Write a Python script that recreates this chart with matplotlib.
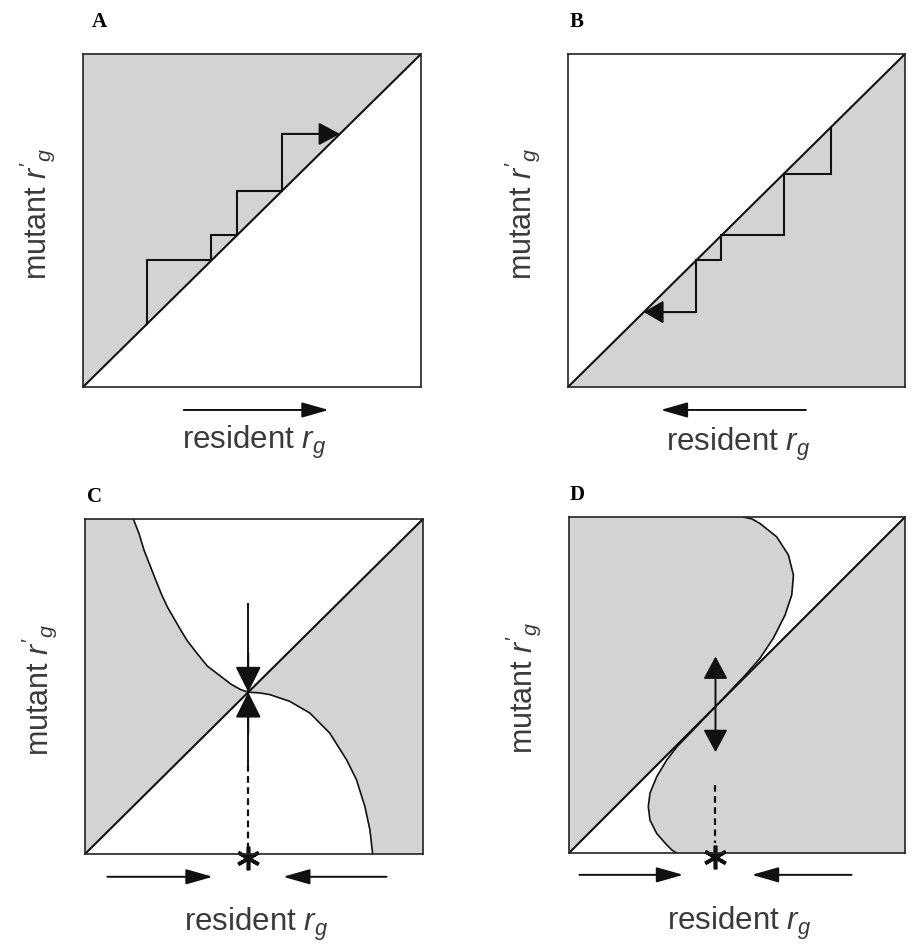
import numpy as np
import matplotlib
matplotlib.use('Agg')
import matplotlib.pyplot as plt

plt.rcParams['font.family'] = ['Liberation Sans', 'DejaVu Sans']
plt.rcParams['mathtext.fontset'] = 'custom'
plt.rcParams['mathtext.rm'] = 'Liberation Sans'
plt.rcParams['mathtext.it'] = 'Liberation Sans:italic'

# --------------------------
# Data (unit square, resident on x, mutant on y)
# --------------------------
panel_labels = ['A', 'B', 'C', 'D']
xlabel_text = 'resident $r_g$'
ylabel_text = "mutant $r'_g$"

# points where the staircases touch the diagonal
stairs_a = [0.19, 0.38, 0.455, 0.59, 0.76]
stairs_b = [0.78, 0.64, 0.455, 0.38, 0.225]

# panel C: the second zero-fitness line (two branches meeting at the singular point)
c_left_x = [0.143, 0.160, 0.175, 0.210, 0.226, 0.244, 0.284, 0.303, 0.333, 0.362, 0.393, 0.432, 0.460, 0.483]
c_left_y = [1.000, 0.956, 0.906, 0.816, 0.776, 0.737, 0.667, 0.636, 0.597, 0.561, 0.537, 0.507, 0.491, 0.483]
c_right_x = [0.483, 0.516, 0.546, 0.605, 0.665, 0.724, 0.774, 0.803, 0.828, 0.843, 0.851]
c_right_y = [0.483, 0.481, 0.476, 0.456, 0.421, 0.361, 0.281, 0.222, 0.142, 0.072, 0.000]
c_point = 0.483

# panel D: S-shaped line, upper and lower part split at the singular point
d_upper_x = [0.519, 0.545, 0.568, 0.618, 0.653, 0.668, 0.663, 0.643, 0.608, 0.568, 0.527, 0.490, 0.436]
d_upper_y = [1.000, 0.994, 0.981, 0.941, 0.887, 0.827, 0.768, 0.708, 0.639, 0.579, 0.532, 0.493, 0.436]
d_lower_x = [0.436, 0.380, 0.322, 0.291, 0.261, 0.241, 0.236, 0.241, 0.261, 0.291, 0.306, 0.320]
d_lower_y = [0.436, 0.377, 0.317, 0.277, 0.227, 0.178, 0.138, 0.098, 0.058, 0.024, 0.009, 0.000]
d_point = 0.436

# arrows under the boxes: (start, end) in resident units
bottom_arrows = {
    'A': [(0.298, 0.727)],
    'B': [(0.706, 0.275)],
    'C': [(0.066, 0.378), (0.892, 0.586)],
    'D': [(0.031, 0.340), (0.841, 0.544)],
}

GRAY = '#d3d3d3'
INK = '#111111'
TEXT = '#3a3a3a'

# --------------------------
# Layout (figure pixels -> fractions)
# --------------------------
W, H = 914, 949
boxes = {  # left, right, top, bottom in pixels
    'A': (83, 421, 54, 387),
    'B': (568, 905, 54, 387),
    'C': (85, 423, 519, 854),
    'D': (569, 905, 517, 853),
}
label_pos = {'A': (92, 27), 'B': (570, 27), 'C': (87, 502), 'D': (570, 500)}
xlabel_y = {'A': -0.165, 'B': -0.172, 'C': -0.21, 'D': -0.21}
arrow_y = {'A': -0.069, 'B': -0.069, 'C': -0.068, 'D': -0.065}


def arrow(ax, start, end, hl, hw, lw=1.4, style='-|>'):
    ax.annotate('', xy=end, xytext=start, xycoords='data', annotation_clip=False,
                arrowprops=dict(arrowstyle=f'{style},head_length={hl},head_width={hw}',
                                mutation_scale=1, lw=lw, color=INK,
                                shrinkA=0, shrinkB=0))


def staircase(ax, steps, hl, hw):
    xs, ys = [steps[0]], [steps[0]]
    for s in steps[1:]:
        xs += [xs[-1], s]
        ys += [s, s]
    ax.plot(xs[:-1], ys[:-1], color=INK, lw=1.5, solid_joinstyle='miter')
    arrow(ax, (xs[-2], ys[-2]), (xs[-1], ys[-1]), hl, hw, lw=1.5)


fig = plt.figure(figsize=(W / 100, H / 100), dpi=100)
axes = {}
for name, (l, r, t, b) in boxes.items():
    ax = fig.add_axes([l / W, 1 - b / H, (r - l) / W, (b - t) / H])
    ax.set_xlim(0, 1)
    ax.set_ylim(0, 1)
    ax.set_xticks([])
    ax.set_yticks([])
    for sp in ax.spines.values():
        sp.set_linewidth(1.2)
        sp.set_color('#222222')
    axes[name] = ax

# A: invasion above the diagonal, steps going up
ax = axes['A']
ax.fill([0, 0, 1], [0, 1, 1], color=GRAY, lw=0)
ax.plot([0, 1], [0, 1], color=INK, lw=1.5)
staircase(ax, stairs_a, 13, 7)

# B: invasion below the diagonal, steps going down
ax = axes['B']
ax.fill([0, 1, 1], [0, 0, 1], color=GRAY, lw=0)
ax.plot([0, 1], [0, 1], color=INK, lw=1.5)
staircase(ax, stairs_b, 12, 7)

# C: convergence stable, evolutionarily stable point
ax = axes['C']
ax.fill([0, 0] + c_left_x, [0, 1] + c_left_y, color=GRAY, lw=0)
ax.fill(c_right_x + [1, 1], c_right_y + [0, 1], color=GRAY, lw=0)
ax.plot([0, 1], [0, 1], color=INK, lw=1.5)
ax.plot(c_left_x, c_left_y, color=INK, lw=1.2)
ax.plot(c_right_x, c_right_y, color=INK, lw=1.2)
ax.plot([c_point, c_point], [0.745, 0.266], color=INK, lw=1.4)
arrow(ax, (c_point, 0.60), (c_point, c_point), 16, 8)
arrow(ax, (c_point, 0.36), (c_point, c_point), 16, 8)
ax.plot([c_point, c_point], [0.266, 0.022], color=INK, lw=1.6, ls=(0, (3, 2)))
ax.plot(c_point, -0.012, marker=(6, 2, 0), ms=17, mew=2.6, color=INK, clip_on=False)

# D: convergence stable branching point
ax = axes['D']
ax.fill([0, 0] + d_upper_x, [0, 1] + d_upper_y, color=GRAY, lw=0)
ax.fill(d_lower_x + [1, 1], d_lower_y + [0, 1], color=GRAY, lw=0)
ax.plot([0, 1], [0, 1], color=INK, lw=1.5)
ax.plot(d_upper_x, d_upper_y, color=INK, lw=1.2)
ax.plot(d_lower_x, d_lower_y, color=INK, lw=1.2)
arrow(ax, (d_point, 0.30), (d_point, 0.585), 14, 7.5, style='<|-|>')
ax.plot([d_point, d_point], [0.202, 0.029], color=INK, lw=1.6, ls=(0, (3, 2)))
ax.plot(d_point, -0.011, marker=(6, 2, 0), ms=17, mew=2.6, color=INK, clip_on=False)

for name, ax in axes.items():
    for start, end in bottom_arrows[name]:
        arrow(ax, (start, arrow_y[name]), (end, arrow_y[name]), 16.5, 4.7)
    ax.text(0.505, xlabel_y[name], xlabel_text, transform=ax.transAxes,
            ha='center', va='center', fontsize=22.5, color=TEXT)
    ax.text(-0.135, 0.52 if name in 'AB' else 0.49, ylabel_text, transform=ax.transAxes,
            ha='center', va='center', rotation=90, fontsize=22, color=TEXT)
    px, py = label_pos[name]
    fig.text(px / W, 1 - py / H, name, ha='left', va='baseline',
             fontsize=15, fontweight='bold', family='Liberation Serif')

fig.savefig('out.png', dpi=100)
